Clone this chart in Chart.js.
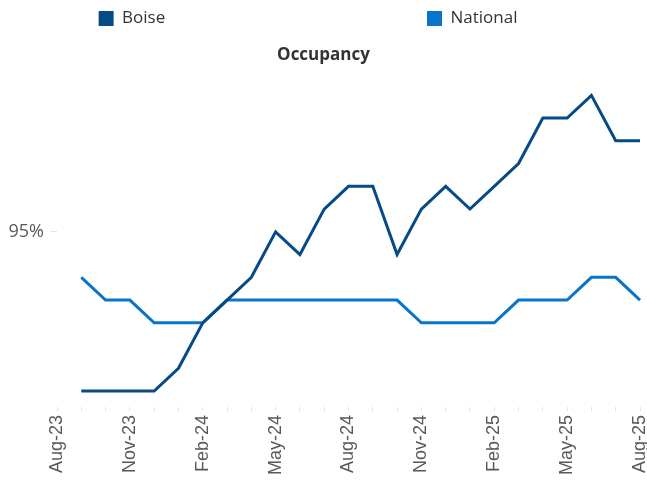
<!DOCTYPE html>
<html>
<head>
<meta charset="utf-8">
<script src="https://cdn.jsdelivr.net/npm/chart.js@4.4.1/dist/chart.umd.min.js"></script>
<style>
	body { margin: 0; background: #fff; }
	#wrap { width: 647px; height: 480px; position: relative; }
</style>
</head>
<body>
<div id="wrap"><canvas id="myChart"></canvas></div>
<script>
const months = [
	'Aug-23', 'Sep-23', 'Oct-23', 'Nov-23', 'Dec-23', 'Jan-24', 'Feb-24',
	'Mar-24', 'Apr-24', 'May-24', 'Jun-24', 'Jul-24', 'Aug-24', 'Sep-24',
	'Oct-24', 'Nov-24', 'Dec-24', 'Jan-25', 'Feb-25', 'Mar-25', 'Apr-25',
	'May-25', 'Jun-25', 'Jul-25', 'Aug-25'
]

// occupancy in %, Aug-23 has no value
const boise = [
	null, 91.5, 91.5, 91.5, 91.5, 92.0, 93.0, 93.5, 94.0, 95.0, 94.5, 95.5,
	96.0, 96.0, 94.5, 95.5, 96.0, 95.5, 96.0, 96.5, 97.5, 97.5, 98.0, 97.0, 97.0
]
const national = [
	null, 94.0, 93.5, 93.5, 93.0, 93.0, 93.0, 93.5, 93.5, 93.5, 93.5, 93.5,
	93.5, 93.5, 93.5, 93.0, 93.0, 93.0, 93.0, 93.5, 93.5, 93.5, 94.0, 94.0, 93.5
]

const yTicks = [95]

const legendFont = { family: 'Open Sans', size: 17 }

// legend items sit far apart, pad the label text so the boxes land where they should
function padText(chart, text, width) {
	const ctx = chart.ctx
	ctx.save()
	ctx.font = legendFont.size + 'px "' + legendFont.family + '"'
	let t = text
	while (ctx.measureText(t + ' ').width <= width) t += ' '
	ctx.restore()
	return t
}

const legendWidths = [296, 102]

let myChart = new Chart(
	document.getElementById('myChart'),
	{
		type: 'line',
		data: {
			labels: months,
			datasets: [
				{
					label: 'Boise',
					data: boise,
					borderColor: '#064a86',
					backgroundColor: '#064a86',
					borderWidth: 3,
					pointRadius: 0,
					tension: 0
				},
				{
					label: 'National',
					data: national,
					borderColor: '#0875cb',
					backgroundColor: '#0875cb',
					borderWidth: 3,
					pointRadius: 0,
					tension: 0
				}
			]
		},
		options: {
			responsive: true,
			maintainAspectRatio: false,
			animation: false,
			layout: { padding: { bottom: 1 } },
			plugins: {
				legend: {
					position: 'top',
					weight: 3000,
					labels: {
						boxWidth: 15,
						boxHeight: 15,
						padding: 10,
						color: '#333',
						font: legendFont,
						generateLabels: (chart) => {
							const items = Chart.defaults.plugins.legend.labels.generateLabels(chart)
							items.forEach((it, i) => {
								it.text = padText(chart, it.text, legendWidths[i])
								it.lineWidth = 0
							})
							return items
						}
					}
				},
				title: {
					display: true,
					text: 'Occupancy',
					color: '#333',
					font: { family: 'Open Sans', size: 17, weight: 'bold' },
					padding: { top: 8, bottom: 14 }
				},
				tooltip: { enabled: false }
			},
			scales: {
				x: {
					border: { display: false },
					grid: {
						drawOnChartArea: false,
						drawTicks: true,
						tickLength: 4,
						color: '#e3e3e3'
					},
					ticks: {
						autoSkip: false,
						minRotation: 90,
						maxRotation: 90,
						padding: 4,
						color: '#595959',
						font: { family: 'Liberation Sans', size: 18 },
						callback: function (value, index) {
							return index % 3 === 0 ? this.getLabelForValue(value) : ''
						}
					},
					afterFit: (scale) => {
						scale.paddingLeft = 0
						scale.paddingRight = 7
					}
				},
				y: {
					min: 91.15,
					max: 98.35,
					border: { display: false },
					grid: {
						drawOnChartArea: false,
						drawTicks: true,
						tickLength: 6,
						color: '#e3e3e3'
					},
					ticks: {
						padding: 7,
						color: '#595959',
						font: { family: 'Open Sans', size: 18 },
						callback: (v) => v + '%'
					},
					afterBuildTicks: (scale) => {
						scale.ticks = yTicks.map(v => ({ value: v }))
					},
					afterFit: (scale) => {
						scale.width = 57
					}
				}
			}
		}
	}
)
</script>
</body>
</html>
